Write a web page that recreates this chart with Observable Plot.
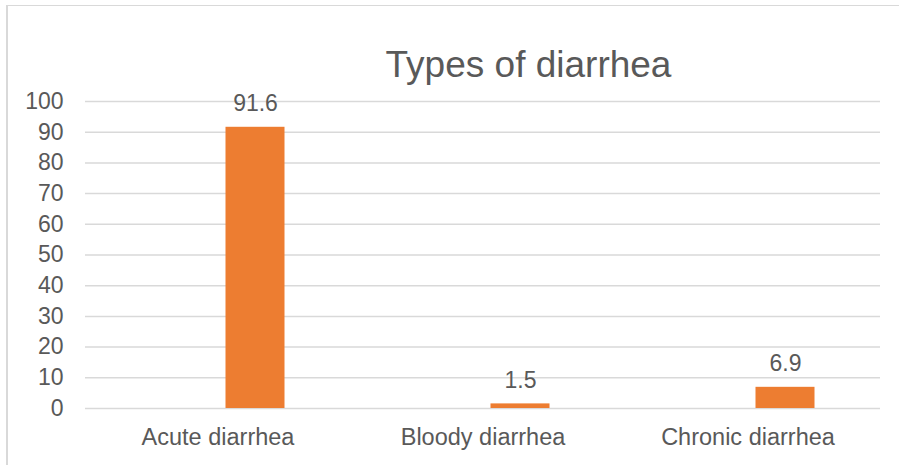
<!DOCTYPE html>
<html>
<head>
<meta charset="utf-8">
<script src="https://cdn.jsdelivr.net/npm/d3@7"></script>
<script src="https://cdn.jsdelivr.net/npm/@observablehq/plot@0.6"></script>
<style>
  html, body { margin: 0; padding: 0; background: #fff; overflow: hidden; }
  #wrap { position: relative; width: 899px; height: 465px; overflow: hidden; }
  #border { position: absolute; left: 6px; top: 5px; width: 1200px; height: 1200px;
            border-left: 2px solid #d9d9d9; border-top: 1px solid #d9d9d9; box-sizing: border-box; }
  #chart { position: absolute; left: 0; top: 0; }
</style>
</head>
<body>
<div id="wrap"><div id="border"></div><div id="chart"></div></div>
<script>
const title = "Types of diarrhea";
const categories = ["Acute diarrhea", "Bloody diarrhea", "Chronic diarrhea"];
const values = [91.6, 1.5, 6.9];
const yTicks = [0, 10, 20, 30, 40, 50, 60, 70, 80, 90, 100];

const data = categories.map((c, i) => ({category: c, value: values[i]}));
const font = "'Liberation Sans', Arial, sans-serif";
const textColor = "#595959";

const chart = Plot.plot({
  width: 899,
  height: 465,
  marginLeft: 85,
  marginRight: 19,
  marginTop: 101,
  marginBottom: 57,
  style: {fontFamily: font, fontSize: "23px", color: textColor, background: "transparent"},
  x: {domain: categories, padding: 0, label: null},
  y: {domain: [0, 100], label: null},
  marks: [
    Plot.gridY(yTicks, {stroke: "#d9d9d9", strokeOpacity: 1, strokeWidth: 1.5}),
    Plot.axisY(yTicks, {tickSize: 0, tickPadding: 22, fontSize: 23, fill: textColor, label: null}),
    Plot.axisX({tickSize: 0, tickPadding: 20, fontSize: 23.5, fill: textColor, label: null}),
    Plot.barY(data, {x: "category", y: "value", fill: "#ED7D31", insetLeft: 140.5, insetRight: 65.5}),
    Plot.text(data, {x: "category", y: "value", text: d => d.value.toFixed(1), dx: 37.5, dy: -16,
      lineAnchor: "bottom", fontSize: 23, fill: textColor}),
    Plot.text([title], {frameAnchor: "top", dx: 45.5, dy: -25, lineAnchor: "bottom",
      fontSize: 37, fill: textColor})
  ]
});
document.getElementById("chart").appendChild(chart);
</script>
</body>
</html>
